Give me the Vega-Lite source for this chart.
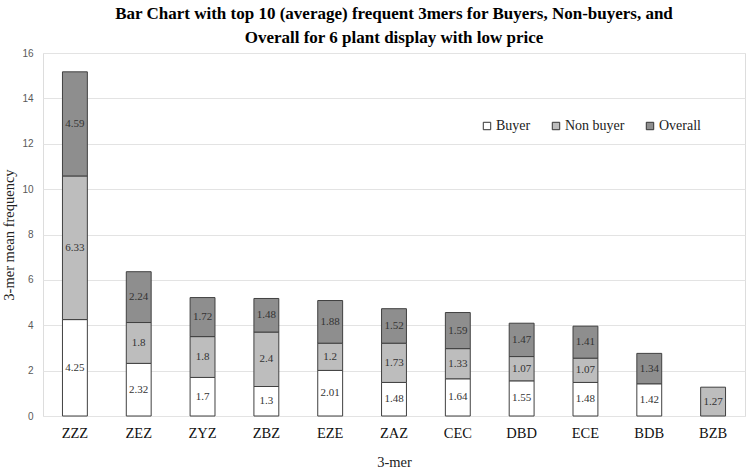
{
  "$schema": "https://vega.github.io/schema/vega-lite/v6.json",
  "width": 702,
  "height": 363,
  "autosize": {"type": "none"},
  "padding": {"left": 43, "top": 53, "right": 5, "bottom": 60},
  "background": "white",
  "title": {
    "text": ["Bar Chart with top 10 (average) frequent 3mers for Buyers, Non-buyers, and", "Overall for 6 plant display with low price"],
    "font": "Liberation Serif",
    "fontSize": 17,
    "fontWeight": "bold",
    "color": "#000000",
    "lineHeight": 24,
    "anchor": "middle",
    "offset": 1
  },
  "data": {
    "values": [
      {"mer": "ZZZ", "group": "Buyer", "ord": 1, "value": 4.25},
      {"mer": "ZZZ", "group": "Non buyer", "ord": 2, "value": 6.33},
      {"mer": "ZZZ", "group": "Overall", "ord": 3, "value": 4.59},
      {"mer": "ZEZ", "group": "Buyer", "ord": 1, "value": 2.32},
      {"mer": "ZEZ", "group": "Non buyer", "ord": 2, "value": 1.8},
      {"mer": "ZEZ", "group": "Overall", "ord": 3, "value": 2.24},
      {"mer": "ZYZ", "group": "Buyer", "ord": 1, "value": 1.7},
      {"mer": "ZYZ", "group": "Non buyer", "ord": 2, "value": 1.8},
      {"mer": "ZYZ", "group": "Overall", "ord": 3, "value": 1.72},
      {"mer": "ZBZ", "group": "Buyer", "ord": 1, "value": 1.3},
      {"mer": "ZBZ", "group": "Non buyer", "ord": 2, "value": 2.4},
      {"mer": "ZBZ", "group": "Overall", "ord": 3, "value": 1.48},
      {"mer": "EZE", "group": "Buyer", "ord": 1, "value": 2.01},
      {"mer": "EZE", "group": "Non buyer", "ord": 2, "value": 1.2},
      {"mer": "EZE", "group": "Overall", "ord": 3, "value": 1.88},
      {"mer": "ZAZ", "group": "Buyer", "ord": 1, "value": 1.48},
      {"mer": "ZAZ", "group": "Non buyer", "ord": 2, "value": 1.73},
      {"mer": "ZAZ", "group": "Overall", "ord": 3, "value": 1.52},
      {"mer": "CEC", "group": "Buyer", "ord": 1, "value": 1.64},
      {"mer": "CEC", "group": "Non buyer", "ord": 2, "value": 1.33},
      {"mer": "CEC", "group": "Overall", "ord": 3, "value": 1.59},
      {"mer": "DBD", "group": "Buyer", "ord": 1, "value": 1.55},
      {"mer": "DBD", "group": "Non buyer", "ord": 2, "value": 1.07},
      {"mer": "DBD", "group": "Overall", "ord": 3, "value": 1.47},
      {"mer": "ECE", "group": "Buyer", "ord": 1, "value": 1.48},
      {"mer": "ECE", "group": "Non buyer", "ord": 2, "value": 1.07},
      {"mer": "ECE", "group": "Overall", "ord": 3, "value": 1.41},
      {"mer": "BDB", "group": "Buyer", "ord": 1, "value": 1.42},
      {"mer": "BDB", "group": "Overall", "ord": 3, "value": 1.34},
      {"mer": "BZB", "group": "Non buyer", "ord": 2, "value": 1.27}
    ]
  },
  "encoding": {
    "x": {
      "field": "mer",
      "type": "nominal",
      "sort": ["ZZZ", "ZEZ", "ZYZ", "ZBZ", "EZE", "ZAZ", "CEC", "DBD", "ECE", "BDB", "BZB"],
      "scale": {"paddingInner": 0.61, "paddingOuter": 0.305},
      "axis": {
        "title": "3-mer",
        "titleFont": "Liberation Serif",
        "titleFontSize": 14.5,
        "titleFontWeight": "normal",
        "titleColor": "#222222",
        "titlePadding": 16,
        "labelFont": "Liberation Serif",
        "labelFontSize": 14.5,
        "labelColor": "#111111",
        "labelAngle": 0,
        "labelPadding": 10,
        "ticks": false,
        "domain": false
      }
    },
    "y": {
      "field": "value",
      "type": "quantitative",
      "stack": "zero",
      "scale": {"domain": [0, 16]},
      "axis": {
        "title": "3-mer mean frequency",
        "titleFont": "Liberation Serif",
        "titleFontSize": 14.5,
        "titleFontWeight": "normal",
        "titleColor": "#222222",
        "titlePadding": 5,
        "values": [0, 2, 4, 6, 8, 10, 12, 14, 16],
        "labelFont": "Liberation Sans",
        "labelFontSize": 10,
        "labelColor": "#595959",
        "labelPadding": 10,
        "ticks": false,
        "domain": false,
        "gridColor": "#e3e3e3",
        "gridWidth": 1.2
      }
    },
    "order": {"field": "ord", "type": "quantitative"}
  },
  "layer": [
    {
      "mark": {"type": "bar", "stroke": "#404040", "strokeWidth": 1},
      "encoding": {
        "color": {
          "field": "group",
          "type": "nominal",
          "scale": {"domain": ["Buyer", "Non buyer", "Overall"], "range": ["#ffffff", "#bdbdbd", "#8e8e8e"]},
          "legend": {
            "title": null,
            "orient": "none",
            "direction": "horizontal",
            "legendX": 437,
            "legendY": 66,
            "symbolType": "square",
            "symbolSize": 55,
            "symbolStrokeColor": "#333333",
            "symbolStrokeWidth": 1,
            "labelFont": "Liberation Serif",
            "labelFontSize": 14,
            "labelColor": "#222222",
            "labelOffset": 2,
            "columnPadding": 18
          }
        }
      }
    },
    {
      "mark": {"type": "text", "font": "Liberation Serif", "fontSize": 11, "color": "#333333", "baseline": "middle"},
      "encoding": {
        "y": {"field": "value", "type": "quantitative", "stack": "zero", "bandPosition": 0.5},
        "text": {"field": "value", "type": "quantitative"}
      }
    }
  ]
}
